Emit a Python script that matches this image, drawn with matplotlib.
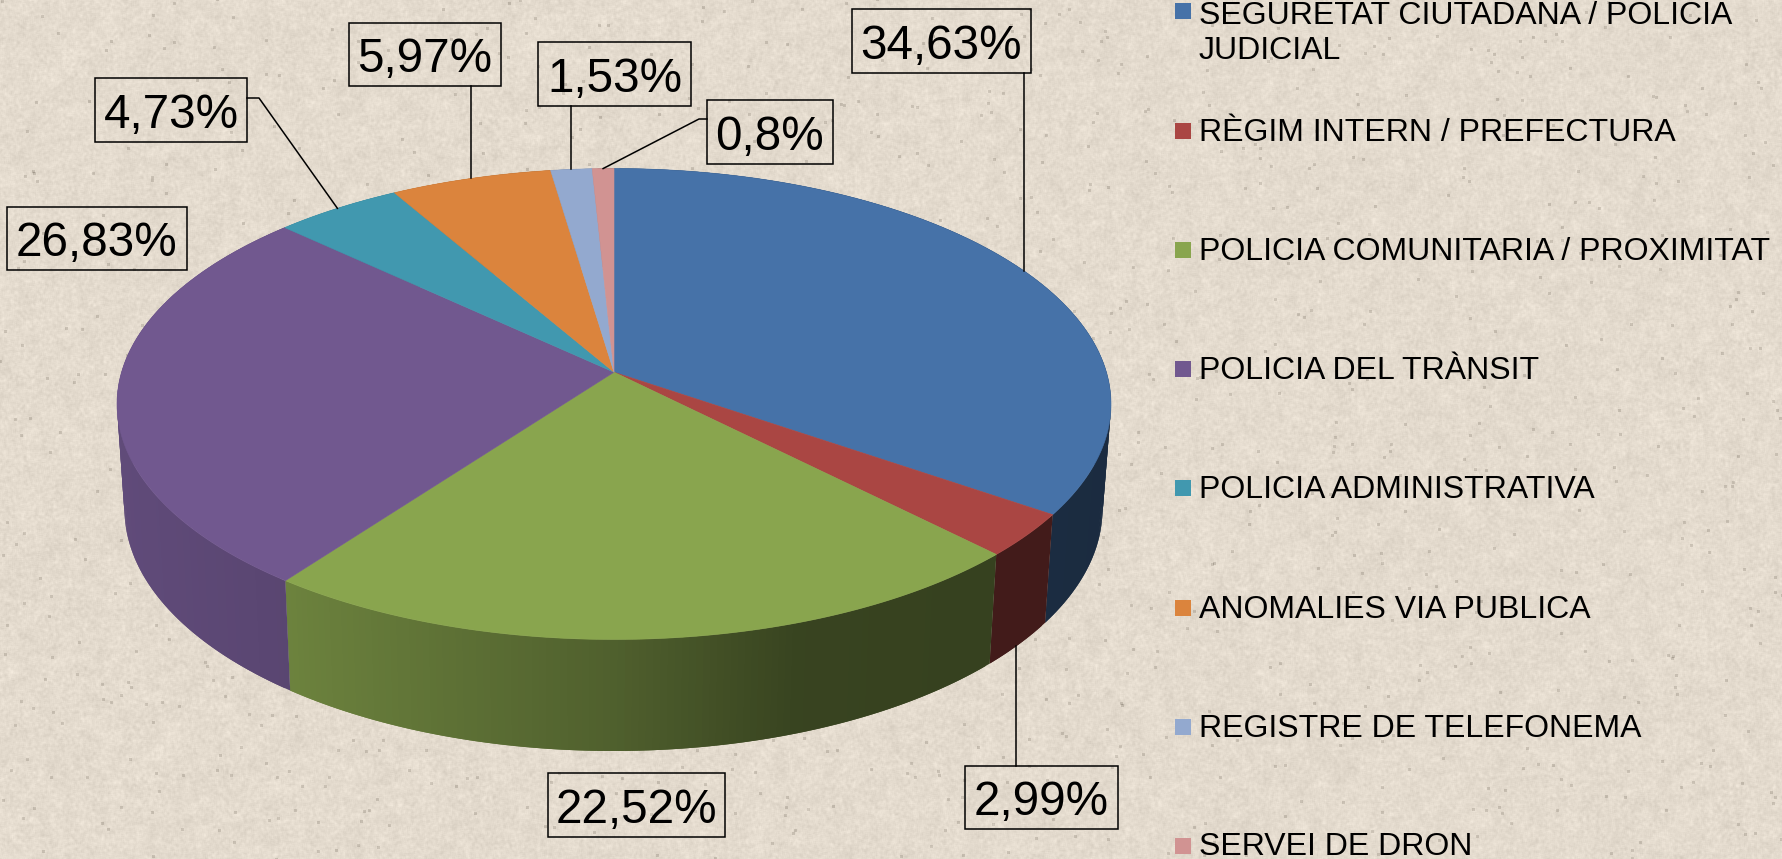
import numpy as np
import matplotlib
matplotlib.use("Agg")
import matplotlib.pyplot as plt
from matplotlib.collections import PolyCollection
from matplotlib.patches import Polygon, Rectangle

plt.rcParams['font.family'] = ['Liberation Sans', 'DejaVu Sans']

# ---- data ----
categories = ["SEGURETAT CIUTADANA / POLICIA\nJUDICIAL", "RÈGIM INTERN / PREFECTURA",
              "POLICIA COMUNITARIA / PROXIMITAT", "POLICIA DEL TRÀNSIT",
              "POLICIA ADMINISTRATIVA", "ANOMALIES VIA PUBLICA",
              "REGISTRE DE TELEFONEMA", "SERVEI DE DRON"]
values = [34.63, 2.99, 22.52, 26.83, 4.73, 5.97, 1.53, 0.8]
value_labels = ["34,63%", "2,99%", "22,52%", "26,83%", "4,73%", "5,97%", "1,53%", "0,8%"]
colors = ["#4672A8", "#AA4643", "#89A54E", "#71588F", "#4198AF", "#DB843D", "#93A9CF", "#D19392"]

# ---- layout (figure pixels) ----
W, H = 1783, 859
TOP = dict(cx=614.0, cy=404.0, a=497.0, b=235.5)
BOT = dict(cx=613.5, cy=509.0, a=489.0, b=242.0)
PERSP = 0.135          # perspective shift of the pie's centre
# label boxes: x0, x1, y0, y1
boxes = [(852, 1031, 9, 73), (965, 1118, 766, 829), (548, 725, 773, 837), (7, 187, 207, 270),
         (95, 247, 78, 142), (349, 501, 23, 86), (538, 691, 42, 106), (707, 833, 100, 164)]
legend_y = [11, 131, 250, 369, 488, 608, 727, 846]
legend_baseline = [59, 141, 260, 379, 498, 618, 737, 855]

fig = plt.figure(figsize=(W / 100, H / 100), dpi=100)
ax = fig.add_axes([0, 0, 1, 1])
ax.set_xlim(0, W)
ax.set_ylim(H, 0)
ax.axis('off')


# ---- paper texture (decorative background, not data) ----
def hash_noise(h, w, sx, sy):
    yy, xx = np.mgrid[0:h, 0:w]
    v = np.sin(xx * sx + yy * sy) * 43758.5453
    return v - np.floor(v)


def blur(img, r):
    k = np.ones(2 * r + 1) / (2 * r + 1)
    img = np.apply_along_axis(lambda m: np.convolve(m, k, mode='same'), 1, img)
    return np.apply_along_axis(lambda m: np.convolve(m, k, mode='same'), 0, img)


PAD = 12
hp, wp = H + 2 * PAD, W + 2 * PAD
fine = blur(hash_noise(hp, wp, 12.9898, 78.233), 1) - 0.5
coarse = blur(hash_noise(hp, wp, 39.346, 11.135), 6) - 0.5
speck = blur((hash_noise(hp, wp, 93.989, 67.345) > 0.9992).astype(float), 1)
field = fine * 34 + coarse * 80 - speck * 260
field = field[PAD:-PAD, PAD:-PAD]
base = np.array([228.0, 219.0, 206.0])
tex = base[None, None, :] + field[..., None]
ax.imshow(np.clip(tex, 0, 255).astype(np.uint8), extent=(0, W, H, 0), zorder=0, aspect='auto',
          interpolation='bilinear')
ax.set_xlim(0, W)
ax.set_ylim(H, 0)


# ---- pie geometry, driven by the values ----
def disc(theta):
    """Clockwise-from-top angle to projected unit-disc coordinates."""
    x, y = np.sin(theta), np.cos(theta)
    d = 1 + PERSP * y
    return x * np.sqrt(1 - PERSP ** 2) / d, (y + PERSP) / d


def rim(theta, e):
    xp, yp = disc(theta)
    return e['cx'] + e['a'] * xp, e['cy'] - e['b'] * yp


shade_x = [-1.0, -0.66, 0.0, 0.37, 1.0]
shade_f = [0.85, 0.79, 0.58, 0.41, 0.38]

fractions = np.array(values) / sum(values)
edges = np.concatenate([[0], np.cumsum(fractions)]) * 2 * np.pi
apex = (TOP['cx'], TOP['cy'] - TOP['b'] * PERSP)

# sides: only slices' front faces show, drawn as overlapping bands for a smooth gradient
for i, col in enumerate(colors):
    n = max(3, int(fractions[i] * 500))
    t = np.linspace(edges[i], edges[i + 1], n + 1)
    xt, yt = rim(t, TOP)
    xb, yb = rim(t, BOT)
    rgb = np.array(matplotlib.colors.to_rgb(col))
    polys, fcs = [], []
    for j in range(n):
        k = min(j + 2, n)
        polys.append([(xt[j], yt[j]), (xt[k], yt[k]), (xb[k], yb[k]), (xb[j], yb[j])])
        xm = disc((t[j] + t[j + 1]) / 2)[0]
        fcs.append(rgb * np.interp(xm, shade_x, shade_f))
    ax.add_collection(PolyCollection(polys, facecolors=fcs, edgecolors='none', linewidths=0,
                                     antialiaseds=True, zorder=2))

# top faces
for i, col in enumerate(colors):
    t = np.linspace(edges[i], edges[i + 1], max(4, int(fractions[i] * 600)))
    xt, yt = rim(t, TOP)
    pts = np.vstack([[apex], np.column_stack([xt, yt])])
    ax.add_patch(Polygon(pts, closed=True, facecolor=col, edgecolor=col, linewidth=0.4, zorder=3))

# ---- data labels ----
mids = (edges[:-1] + edges[1:]) / 2
for i, (lab, (x0, x1, y0, y1)) in enumerate(zip(value_labels, boxes)):
    ax.add_patch(Rectangle((x0, y0), x1 - x0, y1 - y0, fill=False, edgecolor='black', linewidth=1.1, zorder=5))
    ax.text((x0 + x1) / 2, y1 - 14, lab, fontsize=34.3, color='black', ha='center', va='baseline', zorder=6)

# leader lines end on the rim at each slice's mid-angle
lw = 1.1
for i in [0, 5, 6]:
    x, y = rim(mids[i], TOP)
    ax.plot([x, x], [boxes[i][3], y], color='black', lw=lw, zorder=5)
x, y = rim(mids[1], BOT)
ax.plot([x - 4, x - 4], [y + 2, boxes[1][2]], color='black', lw=lw, zorder=5)
x, y = rim(mids[4], TOP)
ymid = (boxes[4][2] + boxes[4][3]) / 2 - 12
ax.plot([boxes[4][1], boxes[4][1] + 12, x], [ymid, ymid, y], color='black', lw=lw, zorder=5)
x, y = rim(mids[7], TOP)
ymid = (boxes[7][2] + boxes[7][3]) / 2 - 13
ax.plot([boxes[7][0], boxes[7][0] - 8, x], [ymid, ymid, y], color='black', lw=lw, zorder=5)

# ---- legend ----
for cat, col, yc, yb in zip(categories, colors, legend_y, legend_baseline):
    ax.add_patch(Rectangle((1175, yc - 8), 16, 16, facecolor=col, edgecolor='none', zorder=5))
    ax.text(1199, yb, cat, fontsize=23, color='black', ha='left', va='baseline',
            linespacing=1.22, zorder=6, clip_on=False)

fig.savefig("out.png", dpi=100)
